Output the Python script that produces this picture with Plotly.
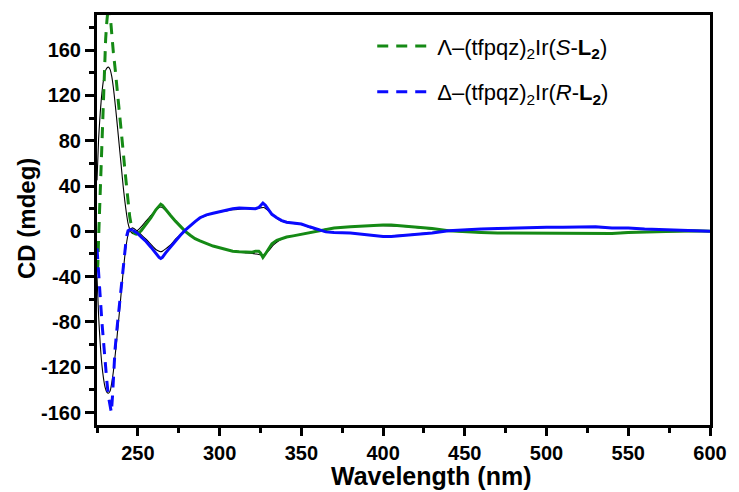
import plotly.graph_objects as go

# ---------------- data ----------------
wl_green = [225, 225.5, 226, 226.8, 227.5, 228, 228.7, 229.5, 230.3, 231, 232, 233, 234, 235,
            236, 237, 238, 239, 240, 241, 242, 243, 244, 245, 246, 247, 248, 249, 250, 252,
            255, 258, 261, 263, 264, 265, 267, 270, 273, 276, 279, 282, 285, 288, 292, 296,
            300, 304, 308, 312, 316, 320, 322, 324, 325, 326.5, 328, 330, 332, 335, 338, 341,
            345, 350, 355, 360, 365, 370, 380, 390, 400, 405, 410, 420, 430, 440, 450, 460,
            470, 480, 490, 500, 510, 520, 530, 540, 550, 560, 570, 580, 590, 600]
cd_green = [-35, -30, -5, 30, 60, 85, 115, 145, 170, 185, 200, 192, 172, 158,
            145, 131, 118, 105, 88, 71, 55, 39, 25, 13, 5, 0, -2, -2.5, -2, 0.5,
            6, 12, 19, 23, 24, 23, 19, 14, 9, 4.5, 0, -3.5, -6.5, -8.5, -11, -13,
            -14.5, -16, -17.5, -18, -18.5, -18.5, -17.5, -17.5, -19, -23, -20, -15, -11, -8, -6.5, -5,
            -4, -2.5, -1, 0.5, 2, 3, 4, 5, 5.5, 5.5, 5, 4, 2.5, 0.5, -0.5, -1,
            -1.5, -1.5, -2, -1.5, -2, -1.5, -1.5, -2, -1, -0.5, -0.5, 0, 0.5, 0]

wl_blue = [225, 225.8, 226.5, 227.3, 228, 229, 230, 231, 232, 233, 233.8, 234.5, 235,
           236, 237, 238, 239, 240, 241, 242, 243, 244, 245, 246, 247, 248, 250, 252,
           255, 258, 261, 263, 264, 265, 267, 270, 273, 276, 279, 282, 285, 288, 292, 296,
           300, 304, 308, 312, 316, 320, 322, 324, 325, 326.5, 328, 330, 332, 335, 338, 341,
           345, 350, 355, 360, 365, 370, 380, 390, 400, 405, 410, 420, 430, 440, 450, 460,
           470, 480, 490, 500, 510, 520, 530, 540, 550, 560, 570, 580, 590, 600]
cd_blue = [-15, -30, -45, -65, -80, -100, -118, -132, -146, -155, -160, -145, -128,
           -105, -89, -74, -60, -45, -29, -14, -5, 0.5, 1.5, 1.5, 1, 0, -2, -5,
           -9, -14, -20, -23, -24, -23, -19, -14, -8, -3.5, 1, 5, 8.5, 12, 14.5, 16,
           17.5, 19, 20, 20.5, 20.5, 20.5, 20, 21, 23, 25, 23, 19, 15, 12, 9.5, 8,
           7.5, 6.5, 4, 1.5, -0.5, -1, -1.5, -3, -4.5, -4.5, -4, -3, -1.5, 0.5, 1.5, 2,
           2.5, 3, 3.5, 3.5, 3.5, 3.5, 4, 3, 3, 2, 1.5, 1, 0.5, 0]

wl_calc = [225, 226, 227, 228, 229, 230, 231, 232, 233, 234, 235, 236, 237, 238, 239, 240,
           241, 242, 243, 244, 245, 246, 247, 248, 250, 252, 255, 258, 261, 263, 264, 265,
           267, 270, 273, 276, 279, 282, 285, 288, 292, 296, 300, 304, 308, 312, 316, 320,
           324, 327, 330, 333, 336, 340, 345, 350, 355, 360, 365, 370, 380, 390, 400, 410,
           420, 430, 440, 450, 470, 500, 530, 560, 600]
cd_calc_a = [45, 82, 105, 122, 134, 141, 144, 145, 143, 137, 127, 114, 100, 85, 70, 55,
             40, 27, 16, 7, 2, -1, -2, -1.5, 1, 4, 9, 14, 19, 21, 21.5, 21,
             18.5, 14, 9, 4.5, 0, -3.5, -6.5, -8.5, -11, -13, -14.5, -16, -17.5, -18.5, -19, -19.5,
             -20.5, -21, -17, -12, -8.5, -5.5, -4, -2.5, -1, 0.5, 2, 3, 4, 5, 5, 4.5,
             3.5, 2, 0.5, -0.5, -1.5, -1.5, -1.5, -0.5, 0]
cd_calc_b = [-40, -75, -100, -118, -130, -138, -142, -143, -141, -134, -124, -111, -97, -82, -67, -51,
             -36, -22, -11, -3, 1, 2.5, 3, 2, 0, -3, -7, -11.5, -16, -17.5, -18, -17.5,
             -15.5, -12, -7, -3, 1, 5, 8.5, 11.5, 14, 16, 17, 18, 19, 19.5, 20, 20,
             20.5, 21, 18, 14, 10.5, 8, 7, 6, 3.5, 1, -0.5, -1, -1.5, -3, -4, -3.5,
             -2.5, -1, 0.5, 1.5, 2.5, 3.5, 3.5, 2, 0]

x_ticks = [250, 300, 350, 400, 450, 500, 550, 600]
y_ticks = [-160, -120, -80, -40, 0, 40, 80, 120, 160]
y_ticktext = [str(v) for v in y_ticks]   # plain hyphen-minus as in the reference

label_green = "\u039b\u2013(tfpqz)<sub>2</sub>Ir(<i>S</i>-<b>L<sub>2</sub></b>)"
label_blue = "\u0394\u2013(tfpqz)<sub>2</sub>Ir(<i>R</i>-<b>L<sub>2</sub></b>)"

GREEN = "#158a15"
BLUE = "#0a0aff"
DASH = "11px,8px"
SPLIT = 247  # steep region drawn dashed, rest appears solid

def split(wl, cd, cut):
    a = [(w, c) for w, c in zip(wl, cd) if w <= cut]
    b = [(w, c) for w, c in zip(wl, cd) if w >= cut]
    return [p[0] for p in a], [p[1] for p in a], [p[0] for p in b], [p[1] for p in b]

fig = go.Figure()

for cd in (cd_calc_a, cd_calc_b):
    fig.add_trace(go.Scatter(x=wl_calc, y=cd, mode="lines", showlegend=False,
                             line=dict(color="black", width=1.1, shape="spline", smoothing=0.6)))

for wl, cd, col, name, grp in ((wl_green, cd_green, GREEN, label_green, "g"),
                               (wl_blue, cd_blue, BLUE, label_blue, "b")):
    x1, y1, x2, y2 = split(wl, cd, SPLIT)
    fig.add_trace(go.Scatter(x=x1, y=y1, mode="lines", name=name, legendgroup=grp,
                             line=dict(color=col, width=3, dash=DASH)))
    fig.add_trace(go.Scatter(x=x2, y=y2, mode="lines", showlegend=False, legendgroup=grp,
                             line=dict(color=col, width=3)))

tickfont = dict(family="Liberation Sans, Arial, sans-serif", size=20, color="black", weight="bold")

fig.update_layout(
    width=739, height=492,
    margin=dict(l=97, r=25, t=13, b=67),
    paper_bgcolor="white", plot_bgcolor="white",
    showlegend=True,
    legend=dict(x=0.449, y=0.975, xanchor="left", yanchor="top",
                bgcolor="rgba(0,0,0,0)", traceorder="grouped", tracegroupgap=14,
                itemwidth=55,
                font=dict(family="Liberation Sans, Arial, sans-serif", size=22, color="black")),
    xaxis=dict(range=[225, 600], tickvals=x_ticks, showgrid=False, zeroline=False,
               showline=True, linecolor="black", linewidth=3, mirror=True,
               ticks="outside", ticklen=8, tickwidth=3, tickcolor="black",
               minor=dict(dtick=25, tick0=0, ticks="outside", ticklen=5, tickwidth=3, tickcolor="black"),
               tickfont=tickfont),
    yaxis=dict(range=[-171, 191], tickvals=y_ticks, ticktext=y_ticktext, showgrid=False, zeroline=False,
               showline=True, linecolor="black", linewidth=3, mirror=True,
               ticks="outside", ticklen=9, tickwidth=3, tickcolor="black",
               minor=dict(dtick=20, tick0=0, ticks="outside", ticklen=5, tickwidth=3, tickcolor="black"),
               tickfont=tickfont),
    annotations=[
        dict(text="Wavelength (nm)", xref="paper", yref="paper", x=0.5446, y=-0.124,
             xanchor="center", yanchor="middle", showarrow=False,
             font=dict(family="Liberation Sans, Arial, sans-serif", size=25, color="black", weight="bold")),
        dict(text="CD (mdeg)", xref="paper", yref="paper", x=-0.115, y=0.5036,
             xanchor="center", yanchor="middle", textangle=-90, showarrow=False,
             font=dict(family="Liberation Sans, Arial, sans-serif", size=24, color="black", weight="bold")),
    ],
)

fig.write_html("out.html")
